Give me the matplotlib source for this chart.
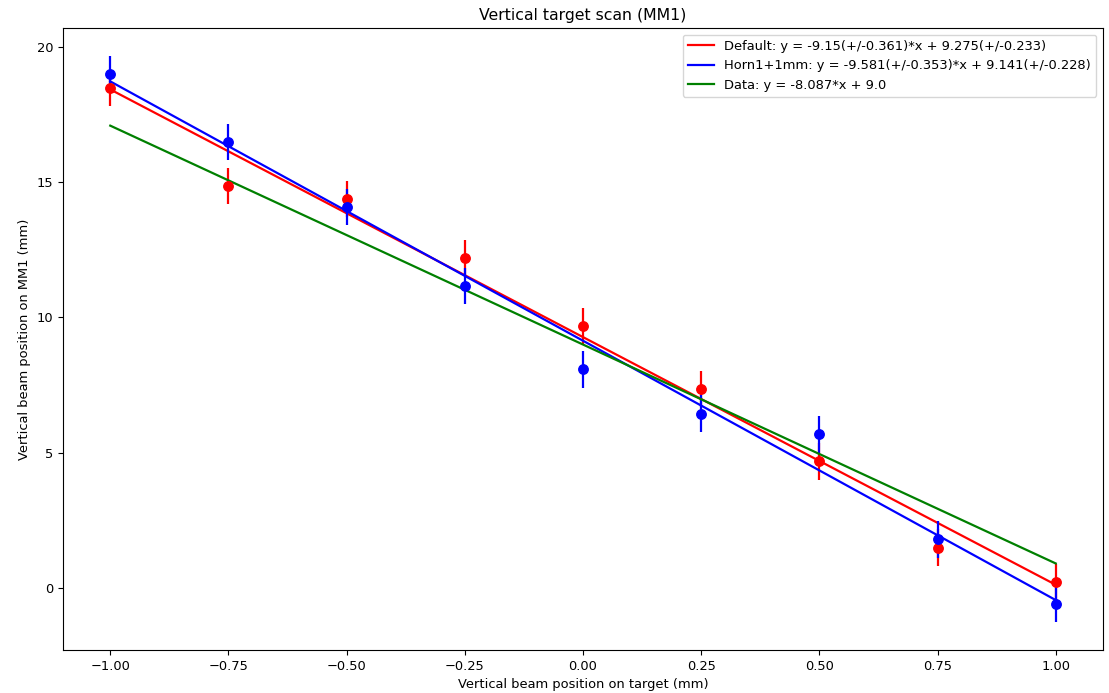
import matplotlib
matplotlib.use('Agg')
import matplotlib.pyplot as plt
import numpy as np

# target scan positions (mm)
x = [-1.0, -0.75, -0.5, -0.25, 0.0, 0.25, 0.5, 0.75, 1.0]

# beam position on MM1 (mm)
y_default = [18.48, 14.87, 14.37, 12.2, 9.68, 7.35, 4.68, 1.5, 0.22]
y_horn = [18.98, 16.48, 14.08, 11.16, 8.08, 6.45, 5.68, 1.8, -0.57]
yerr_default = [0.67, 0.67, 0.67, 0.67, 0.67, 0.67, 0.67, 0.67, 0.67]
yerr_horn = [0.67, 0.67, 0.67, 0.67, 0.67, 0.67, 0.67, 0.67, 0.67]

# fit parameters
fit_default = (-9.15, 0.361, 9.275, 0.233)
fit_horn = (-9.581, 0.353, 9.141, 0.228)
fit_data = (-8.087, 9.0)

plt.rcParams['font.size'] = 9.4
plt.rcParams['axes.titlesize'] = 11.3
plt.rcParams['lines.linewidth'] = 1.6

fig = plt.figure(figsize=(11.09, 6.93), dpi=100)
ax = fig.add_subplot(111)
xs = np.array(x)

m, dm, b, db = fit_default
ax.plot(xs, m*xs + b, color='red',
        label='Default: y = %s(+/-%s)*x + %s(+/-%s)' % (m, dm, b, db))
ax.errorbar(x, y_default, yerr=yerr_default, fmt='o', color='red', markersize=6.8)

m, dm, b, db = fit_horn
ax.plot(xs, m*xs + b, color='blue',
        label='Horn1+1mm: y = %s(+/-%s)*x + %s(+/-%s)' % (m, dm, b, db))
ax.errorbar(x, y_horn, yerr=yerr_horn, fmt='o', color='blue', markersize=6.8)

m, b = fit_data
ax.plot(xs, m*xs + b, color='green', label='Data: y = %s*x + %s' % (m, b))

ax.set_title('Vertical target scan (MM1)')
ax.set_xlabel('Vertical beam position on target (mm)')
ax.set_ylabel('Vertical beam position on MM1 (mm)')
ax.legend(loc='upper right')

plt.subplots_adjust(left=63/1109, right=1103/1109, top=1-28/693, bottom=1-650/693)
plt.savefig('out.png', dpi=100)
